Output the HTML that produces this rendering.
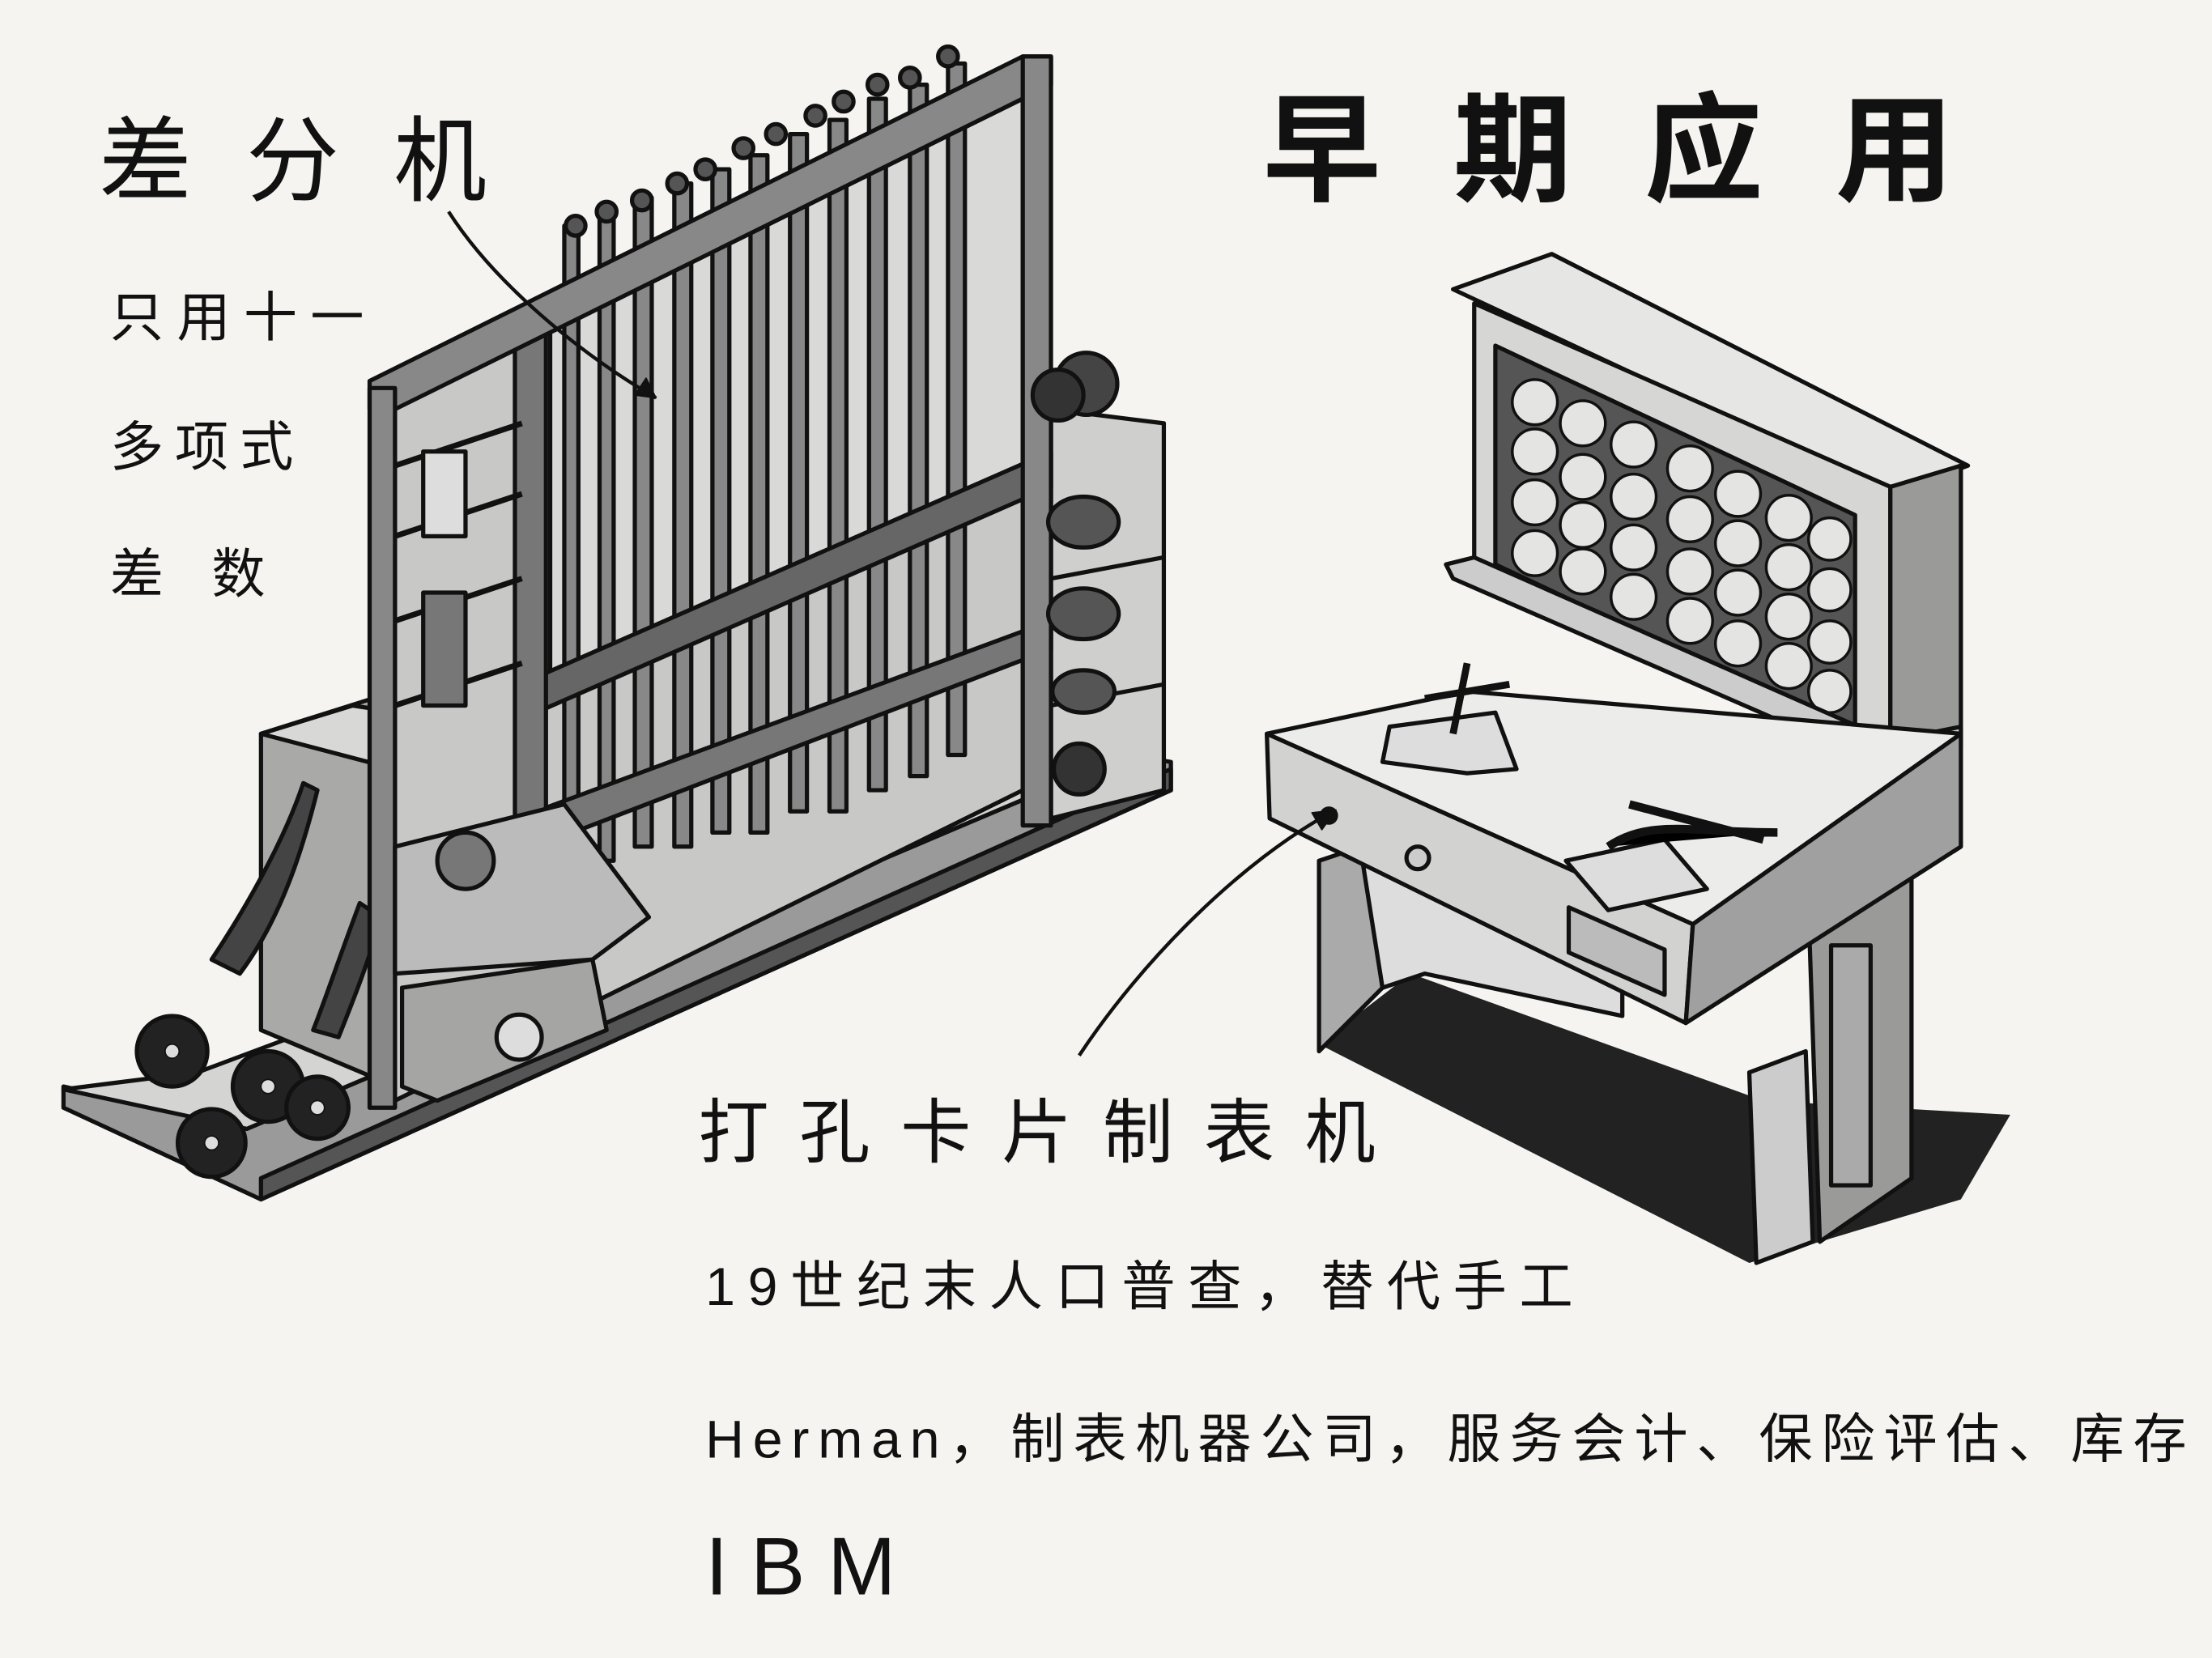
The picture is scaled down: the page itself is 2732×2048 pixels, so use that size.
<!DOCTYPE html>
<html><head><meta charset="utf-8"><style>
html,body{margin:0;padding:0;background:#f5f4f0;}
svg{display:block}
text{font-family:"Liberation Sans","Noto Sans CJK SC",sans-serif;fill:#111}
</style></head><body>
<svg width="2732" height="2048" viewBox="0 0 1568 1175" preserveAspectRatio="none" xmlns="http://www.w3.org/2000/svg">
<rect width="1568" height="1175" fill="#f5f4f0"/>
<g stroke="#111" stroke-width="3" stroke-linejoin="round">
<polygon points="45,785 185,850 830,560 830,540 800,535 175,800 45,770" fill="#9a9a9a"/>
<polygon points="45,772 175,800 800,535 760,528 140,760" fill="#d4d4d2"/>
<polygon points="185,850 830,560 830,545 185,835" fill="#555"/>
<polygon points="745,290 825,300 825,560 745,580" fill="#cfcfcd"/>
<line x1="745" y1="410" x2="825" y2="395"/><line x1="745" y1="500" x2="825" y2="485"/>
<polygon points="185,520 280,490 280,770 185,730" fill="#a9a9a7"/>
<polygon points="185,520 250,500 380,520 280,545" fill="#d8d8d6"/>
<path d="M215,555 C200,600 170,650 150,680 L170,690 C200,650 215,600 225,560 Z" fill="#444"/>
<path d="M255,640 C240,680 230,710 222,730 L240,735 C250,710 262,680 270,650 Z" fill="#444"/>
<polygon points="280,285 725,60 725,560 280,780" fill="#c8c8c6"/>
<polygon points="390,235 725,70 725,330 390,480" fill="#d9d9d7"/>
<g fill="#888">
<rect x="400" y="160" width="10" height="460"/><rect x="425" y="150" width="10" height="460"/>
<rect x="450" y="140" width="12" height="460"/><rect x="478" y="130" width="12" height="470"/>
<rect x="505" y="120" width="12" height="470"/><rect x="532" y="110" width="12" height="480"/>
<rect x="560" y="95" width="12" height="480"/><rect x="588" y="85" width="12" height="490"/>
<rect x="616" y="70" width="12" height="490"/><rect x="645" y="60" width="12" height="490"/>
<rect x="672" y="45" width="12" height="490"/>
</g>
<g fill="#555">
<circle cx="408" cy="160" r="7"/><circle cx="430" cy="150" r="7"/><circle cx="455" cy="142" r="7"/><circle cx="480" cy="130" r="7"/><circle cx="500" cy="120" r="7"/><circle cx="527" cy="105" r="7"/><circle cx="550" cy="95" r="7"/><circle cx="578" cy="82" r="7"/><circle cx="598" cy="72" r="7"/><circle cx="622" cy="60" r="7"/><circle cx="645" cy="55" r="7"/><circle cx="672" cy="40" r="7"/>
</g>
<polygon points="380,480 745,320 745,345 380,505" fill="#666"/>
<polygon points="380,575 745,440 745,460 380,600" fill="#777"/>
<rect x="365" y="230" width="22" height="380" fill="#777"/>
<g stroke-width="4"><line x1="280" y1="330" x2="370" y2="300"/><line x1="280" y1="380" x2="370" y2="350"/><line x1="280" y1="440" x2="370" y2="410"/><line x1="280" y1="500" x2="370" y2="470"/></g>
<rect x="300" y="320" width="30" height="60" fill="#ddd"/><rect x="300" y="420" width="30" height="80" fill="#777"/>
<polygon points="262,270 725,40 745,40 745,60 280,290 262,290" fill="#888"/>
<rect x="262" y="275" width="18" height="510" fill="#888"/>
<rect x="725" y="40" width="20" height="545" fill="#888"/>
<polygon points="280,600 400,570 460,650 420,680 280,690" fill="#bbb"/>
<polygon points="285,700 420,680 430,730 310,780 285,770" fill="#a5a5a3"/>
<circle cx="368" cy="735" r="16" fill="#ddd"/>
<circle cx="330" cy="610" r="20" fill="#777"/>
<ellipse cx="768" cy="370" rx="25" ry="18" fill="#555"/><ellipse cx="768" cy="435" rx="25" ry="18" fill="#555"/><ellipse cx="768" cy="490" rx="22" ry="15" fill="#555"/>
<circle cx="770" cy="272" r="22" fill="#444"/><circle cx="750" cy="280" r="18" fill="#333"/>
<circle cx="765" cy="545" r="18" fill="#333"/>
<g fill="#222"><circle cx="122" cy="745" r="25"/><circle cx="150" cy="810" r="24"/><circle cx="190" cy="770" r="25"/><circle cx="225" cy="785" r="22"/></g>
<g fill="#ddd" stroke-width="1"><circle cx="122" cy="745" r="5"/><circle cx="150" cy="810" r="5"/><circle cx="190" cy="770" r="5"/><circle cx="225" cy="785" r="5"/></g>

<polygon points="935,740 1000,690 1250,780 1425,790 1390,850 1240,895" fill="#222" stroke="none"/>
<polygon points="1030,205 1100,180 1395,330 1340,350" fill="#e6e6e4"/>
<polygon points="1045,215 1340,345 1340,545 1045,415" fill="#d6d6d4"/>
<polygon points="1340,345 1390,330 1390,520 1340,545" fill="#9a9a98"/>
<polygon points="1060,245 1315,365 1315,520 1060,400" fill="#555"/>
<g fill="#e4e4e2" stroke-width="2">
<circle cx="1088" cy="285" r="16"/><circle cx="1122" cy="300" r="16"/><circle cx="1158" cy="315" r="16"/><circle cx="1198" cy="332" r="16"/><circle cx="1232" cy="350" r="16"/><circle cx="1268" cy="367" r="16"/><circle cx="1297" cy="382" r="15"/>
<circle cx="1088" cy="320" r="16"/><circle cx="1122" cy="338" r="16"/><circle cx="1158" cy="352" r="16"/><circle cx="1198" cy="368" r="16"/><circle cx="1232" cy="385" r="16"/><circle cx="1268" cy="402" r="16"/><circle cx="1297" cy="418" r="15"/>
<circle cx="1088" cy="356" r="16"/><circle cx="1122" cy="372" r="16"/><circle cx="1158" cy="388" r="16"/><circle cx="1198" cy="405" r="16"/><circle cx="1232" cy="420" r="16"/><circle cx="1268" cy="437" r="16"/><circle cx="1297" cy="455" r="15"/>
<circle cx="1088" cy="392" r="16"/><circle cx="1122" cy="405" r="16"/><circle cx="1158" cy="423" r="16"/><circle cx="1198" cy="440" r="16"/><circle cx="1232" cy="456" r="16"/><circle cx="1268" cy="472" r="16"/><circle cx="1297" cy="490" r="15"/>
</g>
<polygon points="1025,400 1045,395 1340,525 1390,515 1390,530 1340,545 1030,410" fill="#ccc"/>
<polygon points="1280,585 1355,545 1355,835 1290,880" fill="#9a9a98"/>
<rect x="1298" y="670" width="28" height="170" fill="#aaa"/>
<polygon points="1240,760 1280,745 1285,880 1245,895" fill="#ccc"/>
<polygon points="935,610 965,600 980,700 935,745" fill="#aaa"/>
<polygon points="965,605 1060,640 1150,680 1150,720 1010,690 980,700" fill="#ddd"/>
<polygon points="898,520 1040,490 1390,520 1200,655" fill="#ececea"/>
<polygon points="898,520 1200,655 1195,725 900,580" fill="#d2d2d0"/>
<polygon points="1200,655 1390,520 1390,600 1195,725" fill="#a0a0a0"/>
<polygon points="1112,643 1180,673 1180,705 1112,675" fill="#bbb"/>
<circle cx="1005" cy="608" r="8" fill="#ccc"/>
<circle cx="942" cy="578" r="5" fill="#111"/>
<polygon points="985,515 1060,505 1075,545 1040,548 980,540" fill="#ddd"/>
<path d="M1010,495 L1070,485 M1040,470 L1030,520" stroke-width="5"/>
<polygon points="1110,610 1180,595 1210,630 1140,645" fill="#ddd"/>
<path d="M1140,600 C1170,580 1200,590 1260,590 M1155,570 L1250,595" stroke-width="6"/>
<path d="M318,150 C350,200 410,250 465,282" fill="none" stroke-width="2.5"/>
<polygon points="465,282 450,280 458,268" fill="#111" stroke-width="1"/>
<path d="M765,748 C810,680 880,610 945,575" fill="none" stroke-width="2.5"/>
<polygon points="947,574 930,576 937,588" fill="#111" stroke-width="1"/>
</g>
<text x="70" y="137" font-size="66" textLength="275" lengthAdjust="spacing">差分机</text>
<text x="78" y="238" font-size="38" textLength="180" lengthAdjust="spacing">只用十一</text>
<text x="78" y="330" font-size="38" textLength="130" lengthAdjust="spacing">多项式</text>
<text x="78" y="420" font-size="38" textLength="110" lengthAdjust="spacing">差数</text>
<text x="895" y="136" font-size="84" font-weight="bold" textLength="490" lengthAdjust="spacing">早期应用</text>
<text x="495" y="820" font-size="50" textLength="480" lengthAdjust="spacing">打孔卡片制表机</text>
<text x="500" y="925" font-size="38" textLength="615" lengthAdjust="spacing">19世纪末人口普查，替代手工</text>
<text x="500" y="1033" font-size="38" textLength="1050" lengthAdjust="spacing">Herman，制表机器公司，服务会计、保险评估、库存</text>
<text x="500" y="1130" font-size="58" textLength="135" lengthAdjust="spacing">IBM</text>
</svg>
</body></html>
